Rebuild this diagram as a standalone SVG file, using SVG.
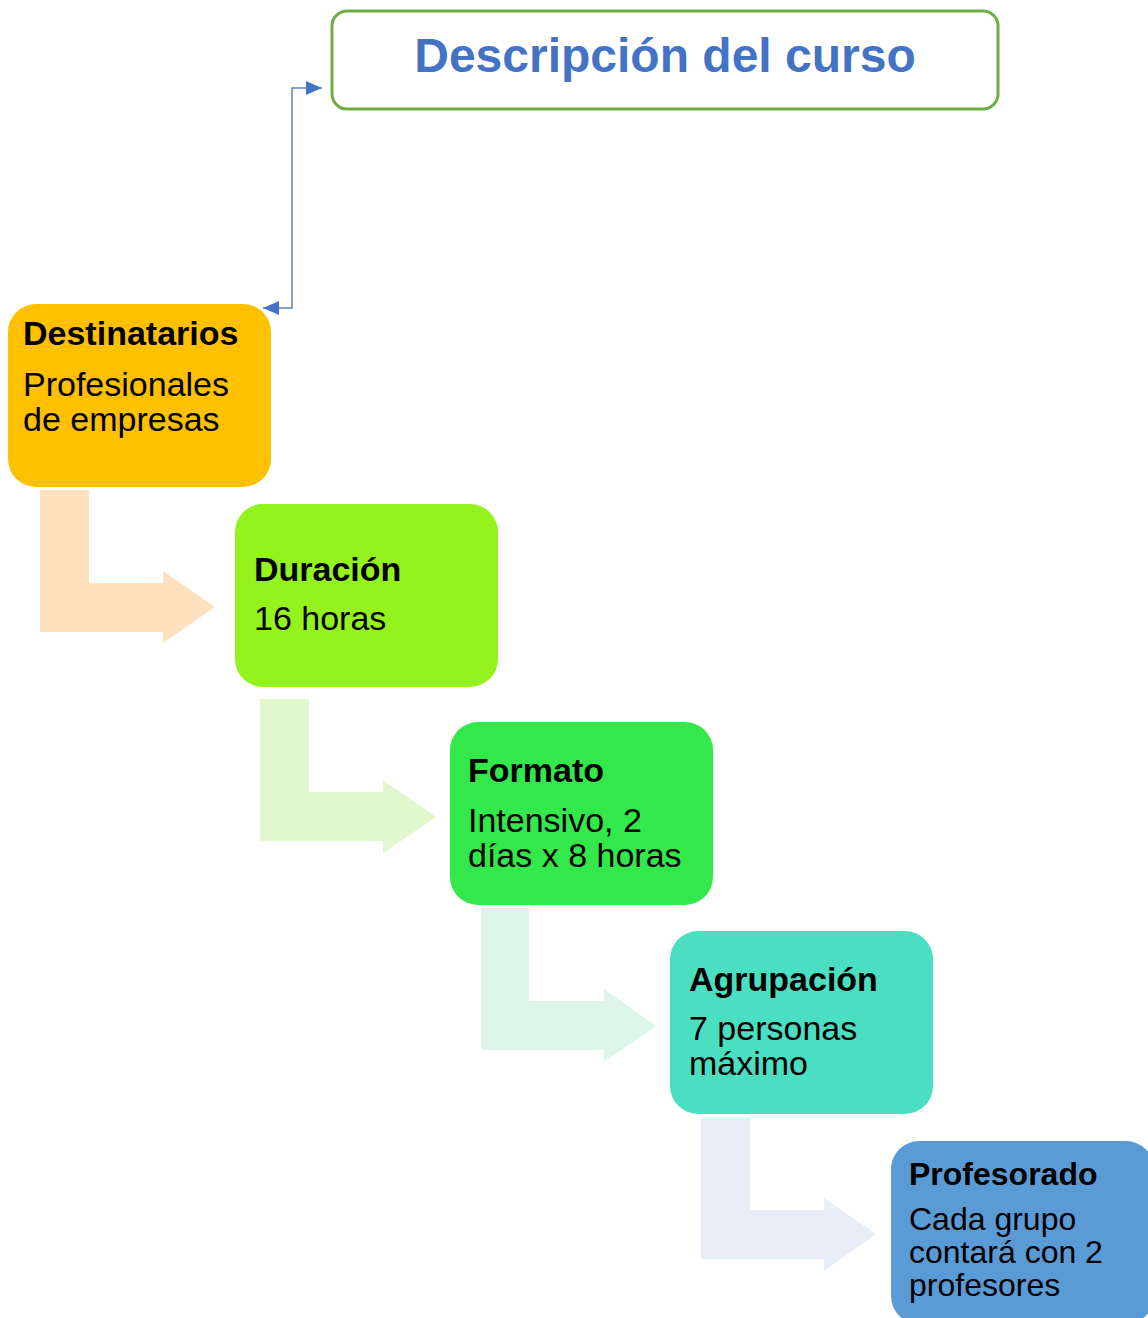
<svg xmlns="http://www.w3.org/2000/svg" width="1148" height="1318" viewBox="0 0 1148 1318">
  <defs>
    <marker id="ah" viewBox="0 0 16 14" refX="16" refY="7" markerWidth="16" markerHeight="14" markerUnits="userSpaceOnUse" orient="auto-start-reverse">
      <path d="M0,0 L16,7 L0,14 Z" fill="#4472C4"/>
    </marker>
  </defs>
  <style>
    text { font-family: "Liberation Sans", Arial, sans-serif; fill: #000; }
    .t { font-weight: bold; font-size: 34px; }
    .b { font-size: 34px; }
    .t2 { font-weight: bold; font-size: 32px; }
    .b2 { font-size: 32px; }
    .title { font-weight: bold; font-size: 48px; fill: #4472C4; }
  </style>
  <rect width="1148" height="1318" fill="#ffffff"/>

  <g id="connectors">
    <polygon points="40,490 89,490 89,583 163,583 163,571 215,607 163,643 163,632 40,632" fill="#FFE1BF"/>
    <polygon points="260,699 309,699 309,792 383,792 383,780 436,817 383,853 383,841 260,841" fill="#E1F8CE"/>
    <polygon points="481,908 529,908 529,1001 604,1001 604,989 656,1026 604,1062 604,1050 481,1050" fill="#DCF7EA"/>
    <polygon points="701,1118 750,1118 750,1210 824,1210 824,1198 876,1234 824,1271 824,1259 701,1259" fill="#E8EEF7"/>
    <polyline points="263,308 292,308 292,88 322,88" fill="none" stroke="#5A84CC" stroke-width="1.5" marker-start="url(#ah)" marker-end="url(#ah)"/>
  </g>

  <g id="node-title">
    <rect x="332" y="11" width="666" height="98" rx="15" ry="15" fill="#ffffff" stroke="#70AD47" stroke-width="3"/>
    <text class="title" x="665" y="72" text-anchor="middle">Descripción del curso</text>
  </g>

  <g id="node-destinatarios">
    <rect x="8" y="304" width="263" height="183" rx="28" ry="28" fill="#FFC000"/>
    <text class="t" x="23" y="345">Destinatarios</text>
    <text class="b" x="23" y="396">Profesionales</text>
    <text class="b" x="23" y="431">de empresas</text>
  </g>

  <g id="node-duracion">
    <rect x="235" y="504" width="263" height="183" rx="28" ry="28" fill="#95F31D"/>
    <text class="t" x="254" y="581">Duración</text>
    <text class="b" x="254" y="630">16 horas</text>
  </g>

  <g id="node-formato">
    <rect x="450" y="722" width="263" height="183" rx="28" ry="28" fill="#32E84A"/>
    <text class="t" x="468" y="782">Formato</text>
    <text class="b" x="468" y="832">Intensivo, 2</text>
    <text class="b" x="468" y="867">días x 8 horas</text>
  </g>

  <g id="node-agrupacion">
    <rect x="670" y="931" width="263" height="183" rx="28" ry="28" fill="#4ADFC0"/>
    <text class="t" x="689" y="991">Agrupación</text>
    <text class="b" x="689" y="1040">7 personas</text>
    <text class="b" x="689" y="1075">máximo</text>
  </g>

  <g id="node-profesorado">
    <rect x="891" y="1141" width="263" height="183" rx="28" ry="28" fill="#5B9BD5"/>
    <text class="t2" x="909" y="1185">Profesorado</text>
    <text class="b2" x="909" y="1230">Cada grupo</text>
    <text class="b2" x="909" y="1263">contará con 2</text>
    <text class="b2" x="909" y="1296">profesores</text>
  </g>
</svg>
